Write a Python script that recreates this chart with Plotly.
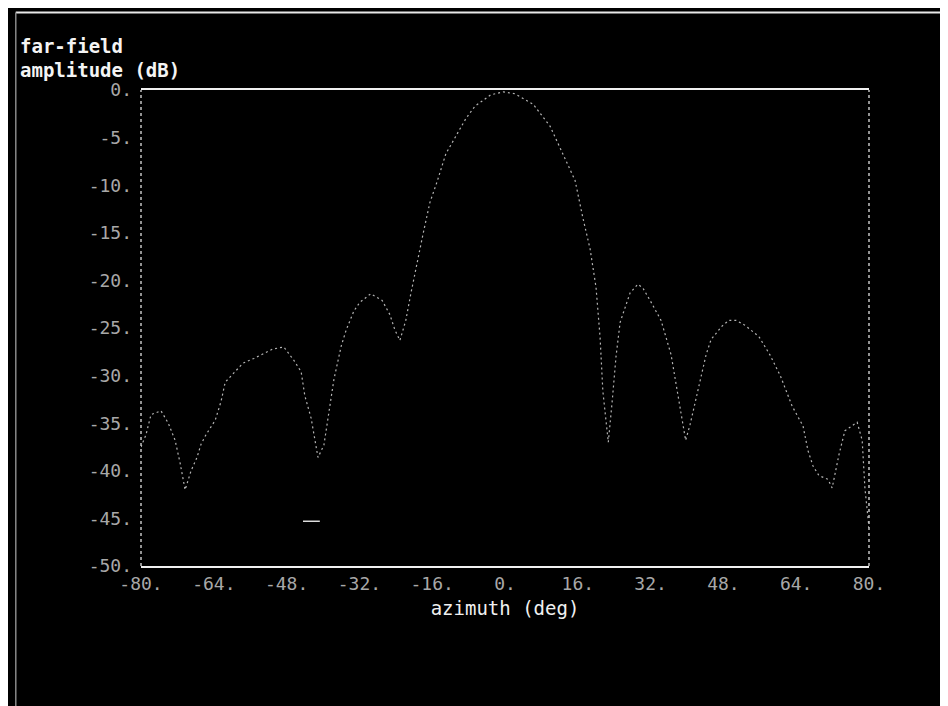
import plotly.graph_objects as go

# far-field pattern
azimuth = [-80, -78.9, -77.8, -75.6, -74.0, -72.5, -71.4, -70.3, -69.0, -67.7,
           -66.8, -65.7, -63.7, -62.4, -61.5, -60.2, -57.6, -55.2, -53.2, -51.0,
           -48.6, -46.4, -44.8, -44.0, -42.6, -41.1, -39.8, -38.5, -37.6, -36.0,
           -34.9, -33.2, -31.9, -29.5, -27.0, -25.3, -24.2, -23.1, -21.8, -20.7,
           -19.8, -18.0, -16.5, -14.9, -13.0, -10.1, -8.6, -6.6, -4.4, -3.1,
           -0.4, 2.2, 4.4, 6.2, 9.9, 13.8, 15.4, 17.1, 18.7, 20.0,
           20.9, 21.5, 22.2, 22.7, 23.5, 24.4, 25.3, 27.5, 29.2, 30.3,
           32.0, 34.3, 36.5, 37.8, 38.7, 39.7, 40.7, 42.9, 44.2, 45.3,
           47.7, 49.2, 50.8, 52.7, 55.8, 58.2, 60.5, 63.1, 65.5, 66.6,
           67.7, 69.0, 71.0, 71.9, 73.4, 74.7, 75.6, 77.4, 78.5, 79.1, 80.0]
amplitude = [-37.5, -36.2, -34.1, -33.7, -35.0, -36.8, -39.2, -42.0, -40.0, -38.6,
             -37.2, -36.2, -34.7, -32.7, -30.7, -30.0, -28.7, -28.2, -27.7, -27.2,
             -27.0, -28.4, -29.6, -32.1, -34.5, -38.6, -37.3, -33.0, -30.4, -26.9,
             -25.2, -23.2, -22.3, -21.4, -22.1, -23.6, -25.2, -26.3, -24.2, -21.4,
             -19.2, -15.1, -11.8, -9.6, -6.7, -4.2, -3.0, -1.7, -1.0, -0.5,
             -0.2, -0.4, -1.0, -1.5, -3.8, -7.9, -9.5, -13.4, -16.7, -20.7,
             -26.0, -31.6, -35.0, -37.0, -33.0, -28.0, -24.4, -21.3, -20.4, -20.8,
             -22.2, -24.2, -27.8, -31.5, -34.1, -36.8, -35.1, -30.4, -27.8, -26.2,
             -24.8, -24.2, -24.2, -24.7, -25.9, -27.8, -30.0, -33.2, -35.3, -37.9,
             -39.5, -40.5, -40.9, -41.8, -38.3, -35.8, -35.5, -34.9, -36.8, -41.8, -46.0]

seg_x = [-44.4, -40.7]
seg_y = [-45.3, -45.3]

x_ticks = [-80, -64, -48, -32, -16, 0, 16, 32, 48, 64, 80]
x_labels = ["-80.", "-64.", "-48.", "-32.", "-16.", "0.", "16.", "32.", "48.", "64.", "80."]
y_ticks = [0, -5, -10, -15, -20, -25, -30, -35, -40, -45, -50]
y_labels = ["0.", "-5.", "-10.", "-15.", "-20.", "-25.", "-30.", "-35.", "-40.", "-45.", "-50."]

MONO = "DejaVu Sans Mono"

fig = go.Figure()
fig.add_trace(go.Scatter(x=azimuth, y=amplitude, mode="lines",
                         line=dict(color="#b4b4b4", width=1.2, dash="2px,3px"),
                         hoverinfo="skip", showlegend=False))
fig.add_trace(go.Scatter(x=seg_x, y=seg_y, mode="lines",
                         line=dict(color="#dddddd", width=1.5),
                         hoverinfo="skip", showlegend=False))

fig.update_layout(
    width=948, height=706, autosize=False,
    paper_bgcolor="black", plot_bgcolor="black",
    margin=dict(l=133, r=87, t=82, b=148),
    font=dict(family=MONO, color="#d8d8d8", size=18),
    showlegend=False,
    xaxis=dict(range=[-80, 80], tickvals=x_ticks, ticktext=x_labels,
               showgrid=False, zeroline=False, showline=True, mirror=True,
               linecolor="#f0f0f0", linewidth=2, ticks="",
               tickfont=dict(family=MONO, size=18, color="#a8a8a8"),
               title=dict(text="azimuth (deg)", standoff=9,
                          font=dict(family=MONO, size=19, color="#f0f0f0"))),
    yaxis=dict(range=[-50, 0], tickvals=y_ticks, ticktext=y_labels,
               showgrid=False, zeroline=False, showline=False, ticks="",
               ticklabelstandoff=8,
               tickfont=dict(family=MONO, size=18, color="#a8a8a8")),
    shapes=[
        dict(type="line", xref="paper", yref="paper", x0=0, x1=0, y0=0, y1=1,
             line=dict(color="#c4c4c4", width=1.5, dash="dot")),
        dict(type="line", xref="paper", yref="paper", x0=1, x1=1, y0=0, y1=1,
             line=dict(color="#c4c4c4", width=1.5, dash="dot")),
        # scan border
        dict(type="line", xref="paper", yref="paper", x0=-0.172, x1=1.12,
             y0=1.163, y1=1.163, line=dict(color="#e8e8e8", width=2)),
        dict(type="line", xref="paper", yref="paper", x0=-0.172, x1=-0.172,
             y0=-0.31, y1=1.163, line=dict(color="#888888", width=1.5)),
    ],
    annotations=[
        dict(text="<b>far-field</b>", xref="paper", yref="paper",
             x=-0.169, y=1.065, xanchor="left", yanchor="bottom", showarrow=False,
             font=dict(family=MONO, size=19, color="#f4f4f4")),
        dict(text="<b>amplitude (dB)</b>", xref="paper", yref="paper",
             x=-0.169, y=1.015, xanchor="left", yanchor="bottom", showarrow=False,
             font=dict(family=MONO, size=19, color="#f4f4f4")),
    ],
)

fig.write_html("out.html")
